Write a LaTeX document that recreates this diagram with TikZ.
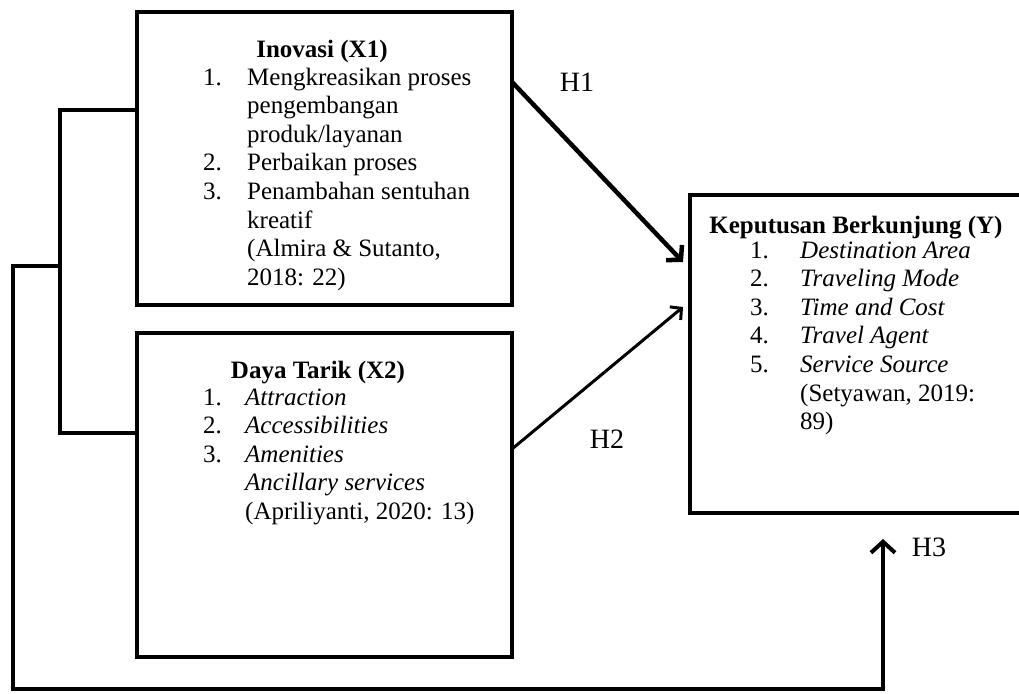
\documentclass[tikz,border=0pt]{standalone}
\usepackage{fontspec}
\setmainfont{Liberation Serif}[ItalicFont={Liberation Serif Italic},BoldFont={Liberation Serif Bold},BoldItalicFont={Liberation Serif Bold Italic}]
\usetikzlibrary{arrows.meta}
\begin{document}
\begin{tikzpicture}[x=1pt,y=-1pt,
  box/.style={draw,line width=4pt,rectangle,inner sep=0pt,outer sep=0pt,anchor=north west},
  txt/.style={inner sep=0pt,anchor=base west,font=\fontsize{25}{28.6}\selectfont},
  ttl/.style={inner sep=0pt,anchor=base,font=\fontsize{25}{28.6}\selectfont\bfseries},
  hlab/.style={inner sep=0pt,anchor=base,font=\fontsize{28}{30}\selectfont},
  conn/.style={line width=4pt},
  harrowA/.style={line width=4.5pt,-{Straight Barb[length=10pt,width=22pt]}},
  harrowB/.style={line width=3pt,-{Straight Barb[length=8pt,width=17pt]}},
  harrowC/.style={line width=4pt,-{Straight Barb[length=11pt,width=24pt]}}
]
\useasboundingbox[fill=white] (0,0) rectangle (1019,693);

% boxes
\node[box,minimum width=375pt,minimum height=293pt] (x1) at (137,12) {};
\node[box,minimum width=375pt,minimum height=324pt] (x2) at (137,333) {};
\node[box,minimum width=360pt,minimum height=318pt] (y) at (690,195) {};

% texts
\node[ttl] (x1t) at (322,57) {Inovasi (X1)};
\node[txt] (x1l) at (203,85) {\begin{tabular}[t]{@{}p{44pt}@{}l@{}}
1. & Mengkreasikan proses\\
   & pengembangan\\
   & produk/layanan\\
2. & Perbaikan proses\\
3. & Penambahan sentuhan\\
   & kreatif\\
   & (Almira \& Sutanto,\\
   & 2018: 22)
\end{tabular}};

\node[ttl] (x2t) at (318,378) {Daya Tarik (X2)};
\node[txt] (x2l) at (203,405) {\begin{tabular}[t]{@{}p{42pt}@{}l@{}}
1. & \textit{Attraction}\\
2. & \textit{Accessibilities}\\
3. & \textit{Amenities}\\
   & \textit{Ancillary services}\\
   & (Apriliyanti, 2020: 13)
\end{tabular}};

\node[ttl] (yt) at (856,233) {Keputusan Berkunjung (Y)};
\node[txt] (yl) at (750,258) {\begin{tabular}[t]{@{}p{50pt}@{}l@{}}
1. & \textit{Destination Area}\\
2. & \textit{Traveling Mode}\\
3. & \textit{Time and Cost}\\
4. & \textit{Travel Agent}\\
5. & \textit{Service Source}\\
   & (Setyawan, 2019:\\
   & 89)
\end{tabular}};

% labels
\node[hlab] (h1) at (577,92) {H1};
\node[hlab] (h2) at (607,448) {H2};
\node[hlab] (h3) at (929,556) {H3};

% connector coordinates
\coordinate (h1s) at (512,82);
\coordinate (h1e) at (683,262);
\coordinate (h2s) at (512,449);
\coordinate (h2e) at (683,307);
\coordinate (bx) at (60,266);
\coordinate (h3e) at (883,539);

% bracket
\draw[conn] (x1.west |- 0,110) -- (60,110) -- (60,433) -- (x2.west |- 0,433);
% outer loop to Y
\draw[conn,harrowC] (bx) -- (13,266) -- (13,689) -- (883,689) -- (h3e);

% H1, H2
\draw[harrowA] (h1s) -- (h1e);
\draw[harrowB] (h2s) -- (h2e);
\end{tikzpicture}
\end{document}
